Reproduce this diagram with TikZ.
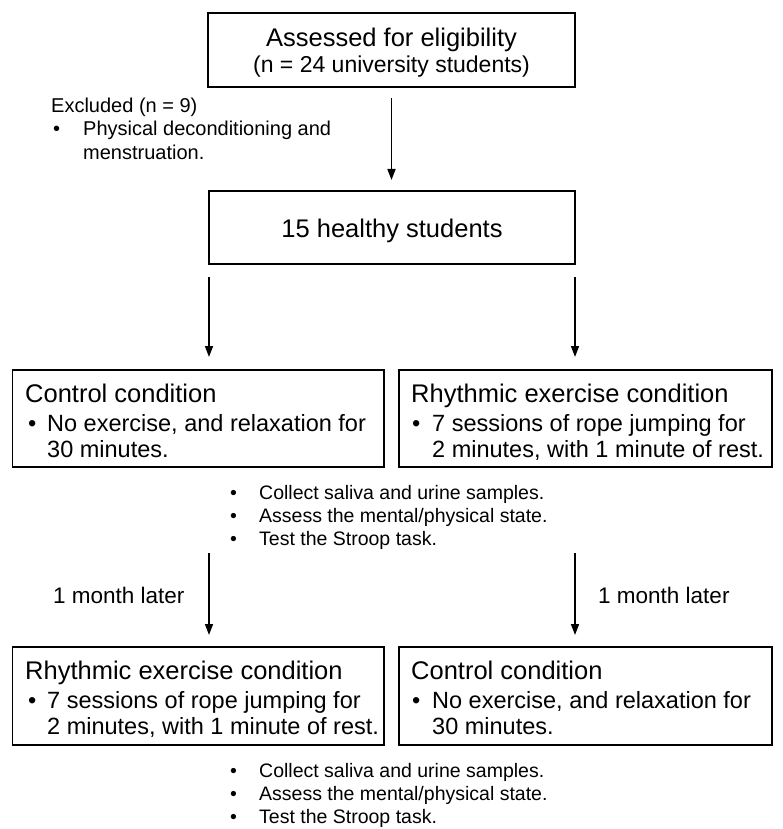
\documentclass[tikz,border=0pt]{standalone}
\usepackage{fontspec}
\setmainfont{Liberation Sans}
\usetikzlibrary{arrows.meta}
\begin{document}
\begin{tikzpicture}[x=1pt,y=-1pt,
  box/.style={draw, line width=1.8pt, inner sep=0pt, outer sep=0pt, anchor=north west},
  arr/.style={line width=1.6pt, -{Triangle[length=11pt,width=8pt]}},
  txt/.style={inner sep=0pt, anchor=base west},
  ctr/.style={inner sep=0pt, anchor=base},
  big/.style={font=\fontsize{25.5}{30}\selectfont},
  sub/.style={font=\fontsize{23}{28}\selectfont},
  mid/.style={font=\fontsize{23.5}{28}\selectfont},
  exc/.style={font=\fontsize{20}{24}\selectfont},
  sml/.style={font=\fontsize{19.5}{23}\selectfont},
  lat/.style={font=\fontsize{22.5}{26}\selectfont},
]
\path[use as bounding box] (0,0) rectangle (782,829);

% top box
\node[box, minimum width=367pt, minimum height=74pt] (top) at (208,13) {};
\node[ctr,big] (topa) at (391.5,47) {Assessed for eligibility};
\node[ctr,sub] (topb) at (391.5,73) {(n = 24 university students)};

% excluded
\node[txt,exc] (exa) at (51,113) {Excluded (n = 9)};
\node[txt,exc] (exb) at (53,136) {\textbullet};
\node[txt,exc] (exc) at (83,136) {Physical deconditioning and};
\node[txt,exc] (exd) at (83,160) {menstruation.};

% healthy
\node[box, minimum width=366pt, minimum height=73pt] (healthy) at (209,191) {};
\node[ctr,big] (healthyt) at (392,237) {15 healthy students};

% first row boxes
\node[box, minimum width=371.5pt, minimum height=97pt] (c1) at (12.5,370) {};
\node[txt,big] (c1t) at (25,402) {Control condition};
\node[txt,mid] (c1b) at (28,431) {\textbullet};
\node[txt,mid] (c1l1) at (47,431) {No exercise, and relaxation for};
\node[txt,mid] (c1l2) at (47,457) {30 minutes.};

\node[box, minimum width=373pt, minimum height=97pt] (r1) at (399,370) {};
\node[txt,big] (r1t) at (411,402) {Rhythmic exercise condition};
\node[txt,mid] (r1b) at (412,431) {\textbullet};
\node[txt,mid] (r1l1) at (432,431) {7 sessions of rope jumping for};
\node[txt,mid] (r1l2) at (432,457) {2 minutes, with 1 minute of rest.};

% middle bullets
\node[txt,sml] (m1b) at (230,499) {\textbullet};
\node[txt,sml] (m1) at (259,499) {Collect saliva and urine samples.};
\node[txt,sml] (m2b) at (230,522) {\textbullet};
\node[txt,sml] (m2) at (259,522) {Assess the mental/physical state.};
\node[txt,sml] (m3b) at (230,545) {\textbullet};
\node[txt,sml] (m3) at (259,545) {Test the Stroop task.};

% later labels
\node[txt,lat] (lat1) at (53,603) {1 month later};
\node[txt,lat] (lat2) at (598,603) {1 month later};

% second row boxes
\node[box, minimum width=371.5pt, minimum height=98pt] (r2) at (12.5,647) {};
\node[txt,big] (r2t) at (25,679) {Rhythmic exercise condition};
\node[txt,mid] (r2b) at (28,708) {\textbullet};
\node[txt,mid] (r2l1) at (47,708) {7 sessions of rope jumping for};
\node[txt,mid] (r2l2) at (47,734) {2 minutes, with 1 minute of rest.};

\node[box, minimum width=373pt, minimum height=98pt] (c2) at (399,647) {};
\node[txt,big] (c2t) at (411,679) {Control condition};
\node[txt,mid] (c2b) at (412,708) {\textbullet};
\node[txt,mid] (c2l1) at (432,708) {No exercise, and relaxation for};
\node[txt,mid] (c2l2) at (432,734) {30 minutes.};

% bottom bullets
\node[txt,sml] (n1b) at (230,777) {\textbullet};
\node[txt,sml] (n1) at (259,777) {Collect saliva and urine samples.};
\node[txt,sml] (n2b) at (230,800) {\textbullet};
\node[txt,sml] (n2) at (259,800) {Assess the mental/physical state.};
\node[txt,sml] (n3b) at (230,823) {\textbullet};
\node[txt,sml] (n3) at (259,823) {Test the Stroop task.};

% arrows
\draw[arr, shorten <=11pt, shorten >=11pt] (top.south) -- (top.south |- healthy.north);
\draw[arr, shorten <=13pt, shorten >=13pt] (healthy.south west) -- (healthy.south west |- c1.north);
\draw[arr, shorten <=13pt, shorten >=13pt] (healthy.south east) -- (healthy.south east |- r1.north);
\draw[arr, shorten <=8pt, shorten >=12pt] (healthy.west |- m3.base) -- (healthy.west |- r2.north);
\draw[arr, shorten <=8pt, shorten >=12pt] (healthy.east |- m3.base) -- (healthy.east |- c2.north);
\end{tikzpicture}
\end{document}
